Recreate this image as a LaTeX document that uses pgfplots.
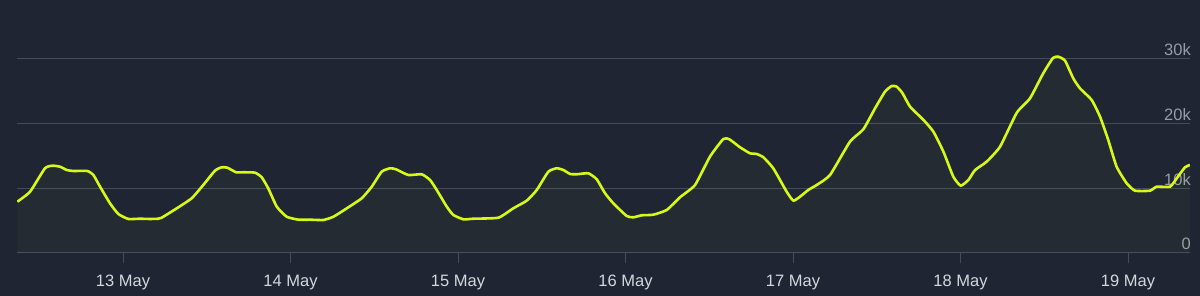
\documentclass[border=0pt]{standalone}
\usepackage{pgfplots}
\usepackage{pgfplotstable}
\usepackage{fontspec}
\setmainfont{Liberation Sans}
\pgfplotsset{compat=1.18}
\definecolor{bgc}{RGB}{31,37,51}
\definecolor{gridc}{RGB}{68,76,90}
\definecolor{linec}{RGB}{214,250,22}
\definecolor{xlab}{RGB}{212,216,222}
\definecolor{ylab}{RGB}{150,156,166}
\pgfplotstableread{
d v
-0.631 7930
-0.555 9480
-0.466 13100
-0.420 13500
-0.376 13340
-0.336 12830
-0.297 12680
-0.213 12680
-0.177 12060
-0.137 10250
-0.078 7690
-0.028 6030
0.032 5260
0.101 5300
0.161 5260
0.211 5300
0.231 5460
0.321 6910
0.410 8460
0.479 10510
0.549 12730
0.589 13250
0.623 13190
0.675 12480
0.718 12480
0.788 12420
0.828 11710
0.867 10000
0.918 7160
0.977 5610
1.047 5150
1.116 5150
1.196 5100
1.256 5610
1.336 6910
1.425 8460
1.485 10250
1.544 12570
1.594 13100
1.630 12940
1.703 12060
1.783 12170
1.833 11290
1.873 9740
1.933 7160
1.972 5880
2.032 5210
2.091 5300
2.241 5460
2.330 6910
2.410 8090
2.470 9740
2.539 12570
2.589 13100
2.629 12830
2.669 12220
2.709 12170
2.778 12320
2.828 11400
2.878 9230
2.927 7690
3.007 5720
3.047 5520
3.097 5830
3.166 5920
3.246 6650
3.325 8610
3.415 10510
3.504 14890
3.584 17630
3.620 17580
3.684 16340
3.743 15420
3.783 15310
3.823 14800
3.882 13100
3.962 9480
4.002 8090
4.042 8710
4.091 9740
4.141 10510
4.221 12060
4.340 17210
4.420 19130
4.490 22380
4.549 24940
4.589 25820
4.619 25720
4.653 24740
4.699 22620
4.779 20570
4.838 18760
4.898 15660
4.957 11800
5.001 10410
5.047 11290
5.087 12830
5.156 14120
5.236 16440
5.336 21690
5.415 23920
5.494 27790
5.552 30150
5.584 30350
5.624 29740
5.673 27010
5.713 25470
5.783 23660
5.833 21080
5.882 17470
5.932 13340
5.992 10780
6.042 9630
6.131 9630
6.171 10250
6.251 10250
6.291 11550
6.340 13250
6.370 13610
}\datatable
\begin{document}
\begin{tikzpicture}
\fill[bgc] (0,0) rectangle (1200pt,296pt);
\begin{axis}[
  at={(17pt,43pt)}, anchor=south west,
  scale only axis,
  width=1173pt, height=253pt,
  xmin=-0.633, xmax=6.37,
  ymin=0, ymax=39120,
  axis line style={draw=none},
  xtick={0,1,2,3,4,5,6},
  xticklabels={13 May,14 May,15 May,16 May,17 May,18 May,19 May},
  xtick pos=bottom,
  tick align=outside,
  major tick length=10pt,
  xtick style={draw=gridc, line width=1pt},
  xticklabel style={anchor=base, yshift=-24pt, inner sep=0pt, text=xlab, font=\fontsize{16.5}{19}\selectfont},
  ytick={0,10000,20000,30000},
  yticklabels={0,10k,20k,30k},
  yticklabel pos=right,
  ytick style={draw=none},
  yticklabel style={anchor=base east, inner sep=0pt, xshift=-9pt, yshift=3pt, text=ylab, font=\fontsize{16.5}{19}\selectfont},
  ymajorgrids,
  grid style={draw=gridc, line width=1pt},
  scaled y ticks=false,
  clip=true,
]
\addplot[draw=none, fill=linec, fill opacity=0.03] table[x=d,y=v] {\datatable} \closedcycle;
\addplot[linec, line width=2.6pt, line join=round, smooth, tension=0.3] table[x=d,y=v] {\datatable};
\end{axis}
\pgfresetboundingbox
\path[use as bounding box] (0,0) rectangle (1200pt,296pt);
\end{tikzpicture}
\end{document}
